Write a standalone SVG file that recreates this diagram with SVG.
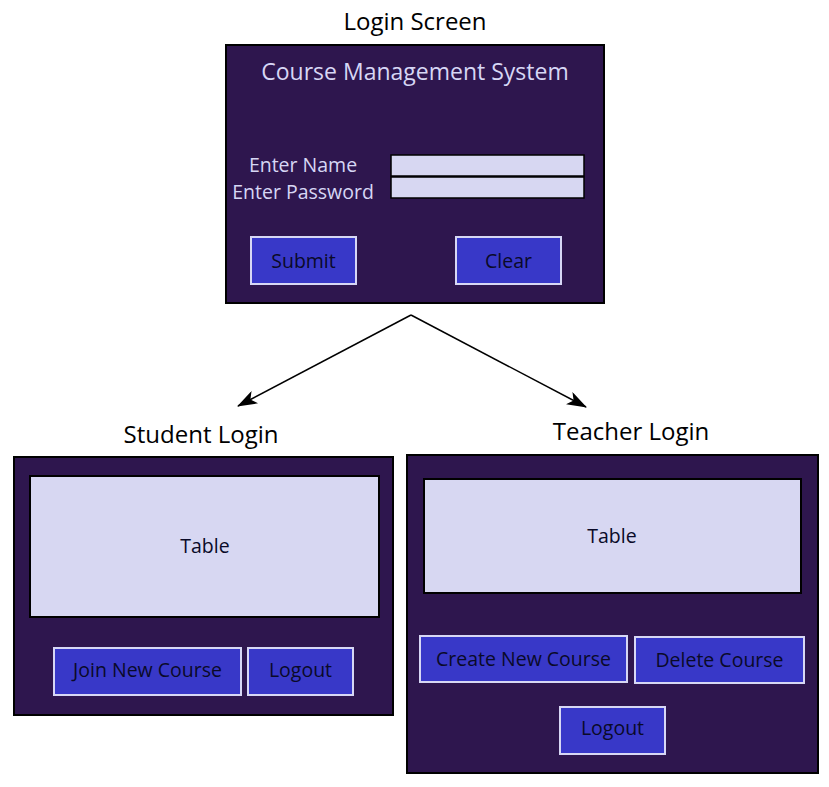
<svg xmlns="http://www.w3.org/2000/svg" width="829" height="787" viewBox="0 0 829 787">
<defs>
<style>
text{font-family:"Open Sans","Noto Sans",sans-serif;}
.title{font-size:24px;fill:#000;text-anchor:middle;}
.panel{fill:#2e164e;stroke:#000;stroke-width:2;}
.tbl{fill:#d7d7f2;stroke:#000;stroke-width:2;}
.field{fill:#d7d7f2;stroke:#000;stroke-width:1.5;}
.btn{fill:#3838c8;stroke:#d7d7f5;stroke-width:2;}
.btxt{font-size:19.5px;fill:#0a0a28;text-anchor:middle;}
.ltxt{font-size:19.5px;fill:#d7d7f5;text-anchor:middle;}
.edge{fill:none;stroke:#000;stroke-width:1.5;}
</style>
<marker id="arr" viewBox="0 0 20 14" refX="19" refY="7" markerWidth="20" markerHeight="14" markerUnits="userSpaceOnUse" orient="auto">
<path d="M0,0 L20,7 L0,14 L5,7 Z" fill="#000"/>
</marker>
</defs>

<g id="login-screen">
<text class="title" x="415" y="30">Login Screen</text>
<rect class="panel" x="226" y="45" width="378" height="258"/>
<text class="ltxt" x="415" y="80" style="font-size:23px">Course Management System</text>
<text class="ltxt" x="303" y="172">Enter Name</text>
<text class="ltxt" x="303" y="199">Enter Password</text>
<rect class="field" x="391" y="155" width="193" height="21"/>
<rect class="field" x="391" y="177" width="193" height="21"/>
<rect class="btn" x="251" y="237" width="105" height="47"/>
<text class="btxt" x="303.5" y="268">Submit</text>
<rect class="btn" x="456" y="237" width="105" height="47"/>
<text class="btxt" x="508.5" y="268">Clear</text>
</g>

<g id="connectors">
<path class="edge" d="M411,315 L238,406" marker-end="url(#arr)"/>
<path class="edge" d="M411,315 L586,407" marker-end="url(#arr)"/>
</g>

<g id="student-login">
<text class="title" x="201" y="443">Student Login</text>
<rect class="panel" x="14" y="457" width="379" height="258"/>
<rect class="tbl" x="30" y="476" width="349" height="141"/>
<text class="btxt" x="205" y="553">Table</text>
<rect class="btn" x="54" y="648" width="187" height="47"/>
<text class="btxt" x="147.5" y="677">Join New Course</text>
<rect class="btn" x="248" y="648" width="105" height="47"/>
<text class="btxt" x="300.5" y="677">Logout</text>
</g>

<g id="teacher-login">
<text class="title" x="631" y="440">Teacher Login</text>
<rect class="panel" x="407" y="455" width="411" height="318"/>
<rect class="tbl" x="424" y="479" width="377" height="114"/>
<text class="btxt" x="612" y="543">Table</text>
<rect class="btn" x="420" y="636" width="207" height="46"/>
<text class="btxt" x="523.5" y="666">Create New Course</text>
<rect class="btn" x="635" y="637" width="169" height="46"/>
<text class="btxt" x="719.5" y="667">Delete Course</text>
<rect class="btn" x="560" y="707" width="105" height="47"/>
<text class="btxt" x="612.5" y="735">Logout</text>
</g>
</svg>
